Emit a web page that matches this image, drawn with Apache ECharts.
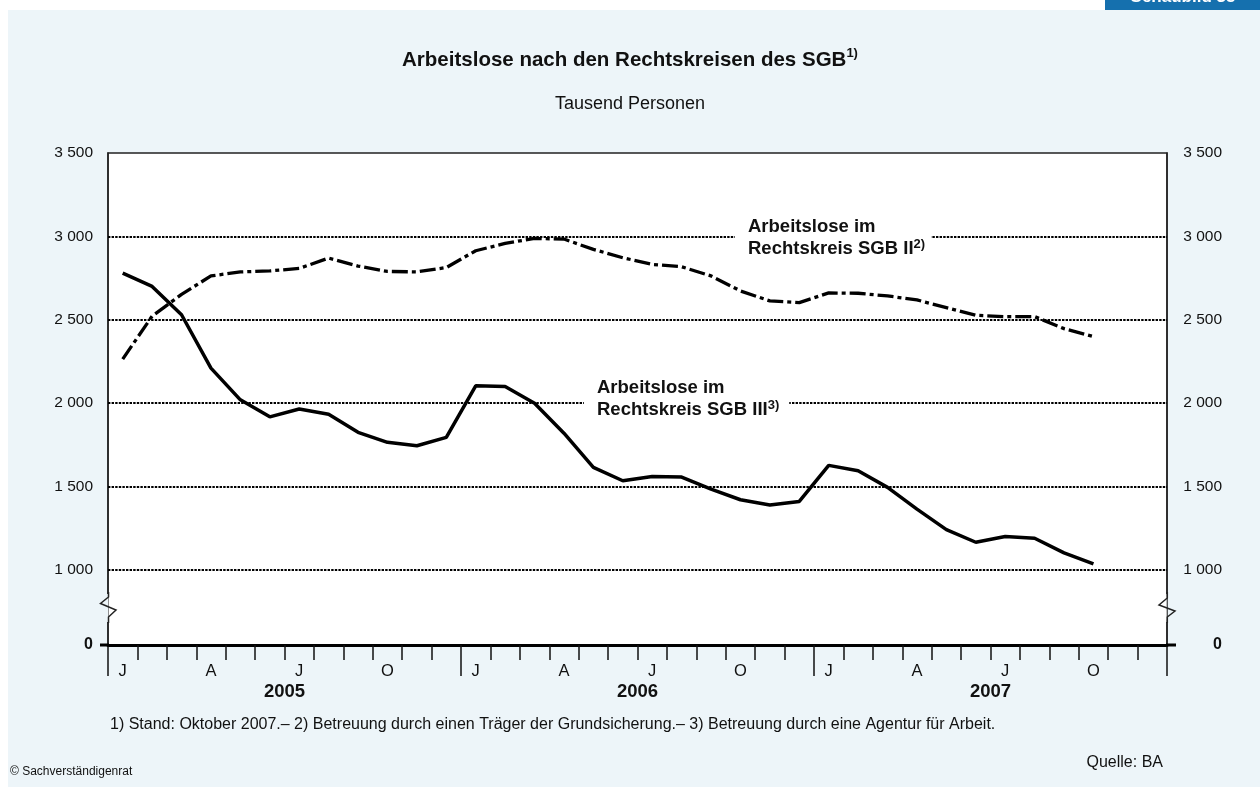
<!DOCTYPE html>
<html>
<head>
<meta charset="utf-8">
<script src="https://cdn.jsdelivr.net/npm/echarts@6/dist/echarts.min.js"></script>
<style>
html,body{margin:0;padding:0;background:#fff;}
#c{width:1260px;height:787px;}
</style>
</head>
<body>
<div id="c"></div>
<script>
// Months Jan 2005 – Dec 2007
var monthLabels = ['J','F','M','A','M','J','J','A','S','O','N','D',
                   'J','F','M','A','M','J','J','A','S','O','N','D',
                   'J','F','M','A','M','J','J','A','S','O','N','D'];
var yearLabels = ['2005','2006','2007'];
// Arbeitslose im Rechtskreis SGB III (Tausend)
var sgb3 = [2780,2700,2530,2210,2020,1918,1965,1934,1825,1765,1745,1795,
            2104,2100,2000,1820,1615,1535,1560,1557,1485,1421,1389,1411,
            1627,1595,1495,1365,1242,1166,1200,1190,1102,1036,null,null];
// Arbeitslose im Rechtskreis SGB II (Tausend)
var sgb2 = [2264,2522,2652,2763,2787,2793,2808,2870,2822,2790,2787,2813,
            2914,2958,2988,2984,2922,2872,2832,2818,2763,2673,2613,2603,
            2661,2659,2643,2619,2573,2527,2519,2519,2447,2399,null,null];
var yTicks = [0,1000,1500,2000,2500,3000,3500];
var gridValues = [1000,1500,2000,2500,3000];

function fmt(v){
  if (v === 0) return '{b|0}';
  if (yTicks.indexOf(v) < 0) return '';
  var s = String(v);
  return s.length > 3 ? s.slice(0, s.length-3) + '\u00a0' + s.slice(s.length-3) : s;
}

var chart = echarts.init(document.getElementById('c'), null, {renderer:'canvas'});
var FONT = '"Liberation Sans", Arial, Helvetica, sans-serif';
function yAxisCfg(pos, align, margin){
  return {
    type:'value', min:0, max:3500, interval:500, position:pos,
    breaks:[{start:150, end:850, gap:150}],
    breakArea:{show:false},
    axisLine:{show:true, lineStyle:{color:'#222', width:1.5}},
    axisTick:{show:false, customValues:yTicks},
    splitLine:{show:false},
    axisLabel:{customValues:yTicks, formatter:fmt, color:'#111', fontSize:15.5, fontFamily:FONT,
               margin:margin, align:align,
               rich:{b:{fontWeight:'bold', fontSize:16, fontFamily:FONT, color:'#111'}}}
  };
}
var option = {
  backgroundColor:'#fff',
  animation:false,
  textStyle:{fontFamily:FONT},
  title:[
    {text:'{b|Arbeitslose nach den Rechtskreisen des SGB}{s|1)}', left:'center', top:42,
     textStyle:{rich:{b:{fontSize:20.5, fontWeight:'bold', color:'#111', fontFamily:FONT, lineHeight:26},
                      s:{fontSize:13, color:'#111', fontFamily:FONT, verticalAlign:'top', lineHeight:26}}}},
    {text:'Tausend Personen', left:'center', top:90,
     textStyle:{fontSize:18, fontWeight:'normal', color:'#111', fontFamily:FONT}}
  ],
  grid:{left:108, right:93, top:153, bottom:142, show:true, backgroundColor:'#fff',
        borderColor:'#222', borderWidth:1.5, containLabel:false},
  xAxis:[
    {type:'category', data:monthLabels, boundaryGap:true, position:'bottom',
     axisLine:{show:true, lineStyle:{color:'#000', width:3}},
     axisTick:{show:true, interval:0, length:15, lineStyle:{color:'#111', width:1.5}},
     axisLabel:{interval:function(i){return i%3===0;}, margin:18, fontSize:16.5, color:'#111', fontFamily:FONT},
     splitLine:{show:false}},
    {type:'category', data:yearLabels, boundaryGap:true, position:'bottom',
     axisLine:{show:false},
     axisTick:{show:true, interval:0, length:31, lineStyle:{color:'#111', width:1.5}},
     axisLabel:{margin:37, fontSize:18.5, fontWeight:'bold', color:'#111', fontFamily:FONT},
     splitLine:{show:false}}
  ],
  yAxis:[
    yAxisCfg('left', 'right', 15),
    yAxisCfg('right', 'right', 55)
  ],
  series:[
    {name:'SGB II', type:'line', data:sgb2, xAxisIndex:0, yAxisIndex:0, symbol:'none',
     lineStyle:{color:'#000', width:3.3, type:[16,4,4,4], cap:'butt'}, z:3},
    {name:'SGB III', type:'line', data:sgb3, xAxisIndex:0, yAxisIndex:0, symbol:'none',
     lineStyle:{color:'#000', width:3.5}, z:3,
     markLine:{silent:true, symbol:'none', label:{show:false}, z:1,
       lineStyle:{color:'#000', width:1.8, type:[2.4,1.2]},
       data:gridValues.map(function(v){return {yAxis:v};})}}
  ],
  graphic:[
    {type:'rect', z:-100, shape:{x:8, y:10, width:1252, height:777}, style:{fill:'#EDF5F9'}},
    {type:'rect', z:5, shape:{x:1105, y:0, width:155, height:10}, style:{fill:'#1570AE'}},
    {type:'text', z:6, x:1183, y:-11, style:{text:'Schaubild 35', fill:'#fff', font:'bold 17px '+FONT,
      align:'center', verticalAlign:'top', textAlign:'center', textVerticalAlign:'top'}},
    // axis break marks
    {type:'rect', z:20, shape:{x:98, y:594, width:10.2, height:28}, style:{fill:'#EDF5F9'}},
    {type:'rect', z:20, shape:{x:108.8, y:594, width:10, height:28}, style:{fill:'#fff'}},
    {type:'rect', z:20, shape:{x:1156, y:594, width:10.6, height:28}, style:{fill:'#fff'}},
    {type:'rect', z:20, shape:{x:1168.2, y:594, width:10, height:28}, style:{fill:'#EDF5F9'}},
    {type:'polyline', z:21, shape:{points:[[108.5,592],[108.5,597],[100.5,603.5],[116,610],[108.5,617],[108.5,623]]},
     style:{stroke:'#222', lineWidth:1.5, fill:null}},
    {type:'polyline', z:21, shape:{points:[[1167.3,592],[1167.3,598],[1159,605],[1175,611],[1167.3,617],[1167.3,623]]},
     style:{stroke:'#222', lineWidth:1.5, fill:null}},
    // zero tick stubs
    {type:'line', z:21, shape:{x1:100, y1:645, x2:109, y2:645}, style:{stroke:'#000', lineWidth:3}},
    {type:'line', z:21, shape:{x1:1166, y1:645, x2:1176, y2:645}, style:{stroke:'#000', lineWidth:3}},
    // series labels
    {type:'text', z:10, x:735, y:214, style:{
      text:'{a|Arbeitslose im}\n{a|Rechtskreis SGB II}{s|2)}',
      backgroundColor:'#fff', padding:[2,6,2,13],
      rich:{a:{font:'bold 18.5px '+FONT, fill:'#111', lineHeight:22},
            s:{font:'bold 13px '+FONT, fill:'#111', verticalAlign:'top', lineHeight:22}}}},
    {type:'text', z:10, x:584, y:375, style:{
      text:'{a|Arbeitslose im}\n{a|Rechtskreis SGB III}{s|3)}',
      backgroundColor:'#fff', padding:[2,10,2,13],
      rich:{a:{font:'bold 18.5px '+FONT, fill:'#111', lineHeight:22},
            s:{font:'bold 13px '+FONT, fill:'#111', verticalAlign:'top', lineHeight:22}}}},
    {type:'text', x:110, y:717, style:{text:'1) Stand: Oktober 2007.– 2) Betreuung durch einen Träger der Grundsicherung.– 3) Betreuung durch eine Agentur für Arbeit.',
      font:'16px '+FONT, fill:'#111'}},
    {type:'text', x:1163, y:755, style:{text:'Quelle: BA', font:'16px '+FONT, fill:'#111', textAlign:'right'}},
    {type:'text', x:10, y:766, style:{text:'© Sachverständigenrat', font:'12px '+FONT, fill:'#111'}}
  ]
};
chart.setOption(option);
</script>
</body>
</html>
